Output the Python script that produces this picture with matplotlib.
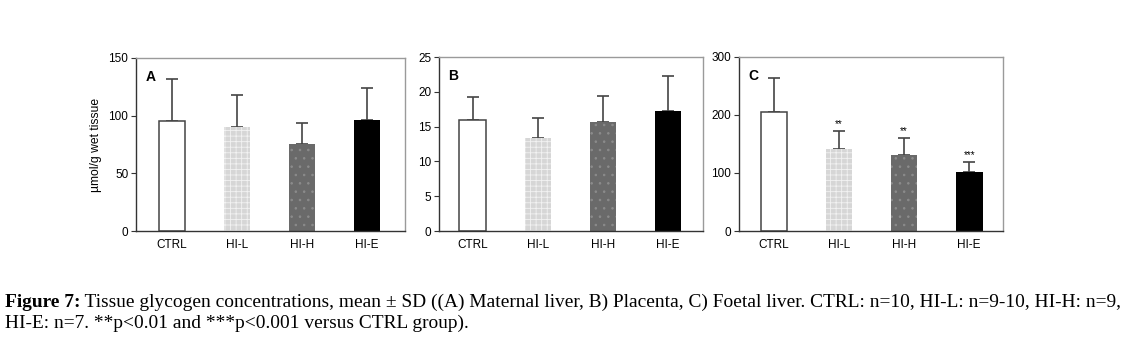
import matplotlib
matplotlib.use("Agg")
import matplotlib.pyplot as plt
import numpy as np

plt.rcParams['hatch.linewidth'] = 0.6

groups = ["CTRL", "HI-L", "HI-H", "HI-E"]

maternal_mean = [95.5, 90.2, 75.2, 96.3]
maternal_sd = [36.5, 28.0, 18.3, 28.0]

placenta_mean = [16.0, 13.3, 15.6, 17.2]
placenta_sd = [3.2, 3.0, 3.8, 5.0]

foetal_mean = [205.0, 141.0, 130.5, 102.5]
foetal_sd = [59.0, 31.5, 30.5, 17.0]
foetal_stars = ["", "**", "**", "***"]

yticks_A = [0, 50, 100, 150]
yticks_B = [0, 5, 10, 15, 20, 25]
yticks_C = [0, 100, 200, 300]

W, H = 1129, 357
fig = plt.figure(figsize=(W / 100, H / 100), dpi=100)

def px_axes(x0, x1, ytop, ybot):
    return fig.add_axes([x0 / W, (H - ybot) / H, (x1 - x0) / W, (ybot - ytop) / H])

face = ["white", "#d6d6d6", "#6a6a6a", "black"]
hatchc = ["#444444", "#f2f2f2", "#8c8c8c", "black"]
hatches = [None, "+++", "..", None]
FS = 8.5

def panel(ax, means, sds, yticks, letter, xlim, stars=None):
    x = np.arange(len(groups))
    for i in range(len(groups)):
        if i == 0:
            ax.bar(x[i], means[i], width=0.41, color="white", edgecolor="#444444",
                   linewidth=1.1, zorder=2)
        else:
            ax.bar(x[i], means[i], width=0.41, color=face[i], edgecolor=hatchc[i],
                   hatch=hatches[i], linewidth=0, zorder=2)
        ax.errorbar(x[i], means[i], yerr=[[0], [sds[i]]], fmt="none",
                    ecolor="#444444", elinewidth=1.2, capsize=4.3, capthick=1.2, zorder=1)
    ax.set_xlim(*xlim)
    ax.set_ylim(yticks[0], yticks[-1])
    ax.set_yticks(yticks)
    ax.set_xticks(x)
    ax.set_xticklabels(groups, fontsize=FS, family="Liberation Sans")
    ax.tick_params(axis="x", length=0, pad=6)
    ax.tick_params(axis="y", length=3.5, width=0.8, color="#333333", labelsize=FS, pad=2)
    for lab in ax.get_yticklabels():
        lab.set_family("Liberation Sans")
    for s in ["left", "bottom"]:
        ax.spines[s].set_color("#333333")
        ax.spines[s].set_linewidth(1.0)
    for s in ["top", "right"]:
        ax.spines[s].set_color("#9a9a9a")
        ax.spines[s].set_linewidth(1.0)
    ax.text(0.035, 0.93, letter, transform=ax.transAxes, fontsize=10, fontweight="bold",
            family="Liberation Sans", va="top", ha="left")
    if stars:
        span = yticks[-1] - yticks[0]
        for i, s in enumerate(stars):
            if s:
                ax.text(x[i], means[i] + sds[i] + span * 0.01, s, ha="center", va="bottom",
                        fontsize=7, family="Liberation Sans")

axA = px_axes(136, 405, 58, 231)
panel(axA, maternal_mean, maternal_sd, yticks_A, "A", (-0.554, 3.585))
axA.set_ylabel("µmol/g wet tissue", fontsize=8.7, family="Liberation Sans", labelpad=5)

axB = px_axes(439, 703, 57, 231)
panel(axB, placenta_mean, placenta_sd, yticks_B, "B", (-0.52, 3.54))

axC = px_axes(739, 1003, 57, 231)
panel(axC, foetal_mean, foetal_sd, yticks_C, "C", (-0.54, 3.52), stars=foetal_stars)

cap1_rest = (" Tissue glycogen concentrations, mean ± SD ((A) Maternal liver, B) Placenta, "
             "C) Foetal liver. CTRL: n=10, HI-L: n=9-10, HI-H: n=9,")
cap2 = "HI-E: n=7. **p<0.01 and ***p<0.001 versus CTRL group)."
CFS = 13.95

t1 = fig.text(5 / W, (H - 307) / H, "Figure 7:", fontsize=CFS, fontweight="bold",
              family="Liberation Serif", va="baseline", ha="left")
fig.canvas.draw()
bb = t1.get_window_extent()
fig.text(bb.x1 / W, (H - 307) / H, cap1_rest, fontsize=CFS, family="Liberation Serif",
         va="baseline", ha="left")
fig.text(5 / W, (H - 328) / H, cap2, fontsize=CFS, family="Liberation Serif",
         va="baseline", ha="left")

fig.savefig("out.png", dpi=100)
